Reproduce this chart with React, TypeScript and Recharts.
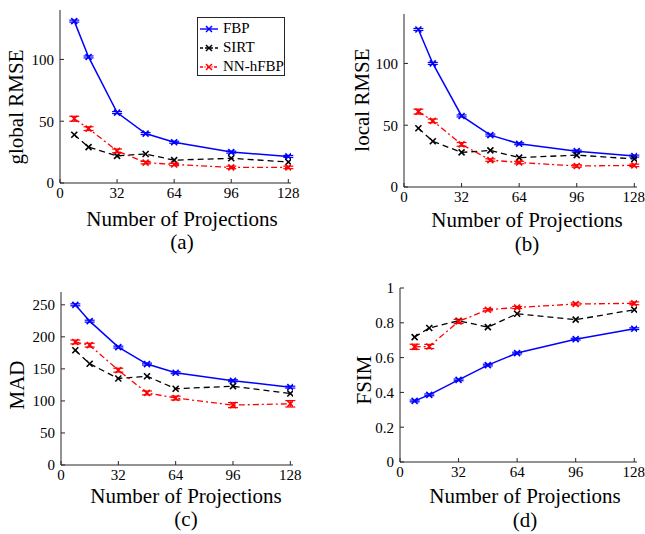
import { LineChart, Line, XAxis, YAxis, ErrorBar, Legend } from "recharts";

const projections = [8, 16, 32, 48, 64, 96, 128];
const xTicks = [0, 32, 64, 96, 128];

const globalFBP = [131, 102, 57, 40, 33, 25, 21.5];
const globalSIRT = [39, 29, 22, 23.5, 18.5, 20, 17];
const globalNN = [52, 44, 26, 16.5, 15, 12.6, 12.6];
const globalNNErr = [2, 1.5, 1.5, 1, 1, 1, 1];

const localFBP = [127.5, 100, 57.5, 42, 35, 29, 25];
const localSIRT = [47.5, 37, 28, 29.6, 23.8, 25.8, 22.7];
const localNN = [61, 53.5, 34.5, 21.8, 19.8, 17, 17.5];
const localNNErr = [2, 1.5, 1.5, 1, 1, 1, 1];

const madFBP = [250, 224.5, 184, 157.5, 144, 131.5, 121.5];
const madSIRT = [179, 158, 135, 138.5, 119, 123, 111.5];
const madNN = [192, 187, 148, 112.5, 104.5, 93.5, 95.5];
const madNNErr = [3, 3, 3, 3, 3, 4, 5];

const fsimFBP = [0.351, 0.386, 0.472, 0.557, 0.626, 0.706, 0.766];
const fsimSIRT = [0.718, 0.77, 0.812, 0.775, 0.852, 0.818, 0.875];
const fsimNN = [0.662, 0.664, 0.808, 0.875, 0.888, 0.908, 0.912];
const fsimNNErr = [0.015, 0.012, 0.012, 0.006, 0.006, 0.006, 0.008];

const FONT = "'Liberation Serif', 'Times New Roman', serif";
const AXIS = "#262626";

const build = (fbp: number[], sirt: number[], nn: number[], nnErr: number[], capErr: number) =>
  projections.map((x, i) => ({ x, fbp: fbp[i], sirt: sirt[i], nn: nn[i], nnErr: nnErr[i], cap: capErr }));

const XMark = (props: any) => {
  const { cx, cy, stroke, index } = props;
  if (cx == null || cy == null) return <g key={index} />;
  const s = 3;
  return (
    <g key={index}>
      <line x1={cx - s} y1={cy - s} x2={cx + s} y2={cy + s} stroke={stroke} strokeWidth={1.6} />
      <line x1={cx - s} y1={cy + s} x2={cx + s} y2={cy - s} stroke={stroke} strokeWidth={1.6} />
    </g>
  );
};

const LegendBox = () => {
  const rows = [
    { name: "FBP", color: "#0000ff", dash: undefined },
    { name: "SIRT", color: "#000000", dash: "3 2" },
    { name: "NN-hFBP", color: "#ff0000", dash: "3 1.5 1 1.5" },
  ];
  return (
    <div
      style={{
        border: `1px solid ${AXIS}`,
        background: "#fff",
        width: 88,
        height: 59,
        boxSizing: "border-box",
        fontFamily: FONT,
        fontSize: 15,
        color: "#000",
        padding: "1px 0 0 0",
      }}
    >
      {rows.map((r) => (
        <div key={r.name} style={{ display: "flex", alignItems: "center", height: 19 }}>
          <svg width={22} height={10} style={{ marginLeft: 1 }}>
            <line x1={1} y1={5} x2={19} y2={5} stroke={r.color} strokeWidth={1.4} strokeDasharray={r.dash} />
            <line x1={7} y1={2} x2={13} y2={8} stroke={r.color} strokeWidth={1.5} />
            <line x1={7} y1={8} x2={13} y2={2} stroke={r.color} strokeWidth={1.5} />
          </svg>
          <span style={{ marginLeft: 2 }}>{r.name}</span>
        </div>
      ))}
    </div>
  );
};

interface PanelProps {
  left: number;
  top: number;
  width: number;
  height: number;
  plot: { l: number; r: number; t: number; b: number };
  data: any[];
  yDomain: [number, number];
  yTicks: number[];
  yFormat?: (v: number) => string;
  yLabel: string;
  yLabelPos: { x: number; y: number };
  title: { x: number; y: number };
  caption: string;
  captionY: number;
  legend?: boolean;
}

const tickStyle = { fontFamily: FONT, fontSize: 15, fill: "#000" };

const textBox = {
  position: "absolute" as const,
  height: 20,
  lineHeight: "20px",
  textAlign: "center" as const,
  fontFamily: FONT,
  fontSize: 21,
  color: "#000",
  whiteSpace: "nowrap" as const,
};

const Panel = (p: PanelProps) => {
  const { plot } = p;
  return (
    <>
      <div style={{ position: "absolute", left: p.left, top: p.top }}>
        <LineChart
          width={p.width}
          height={p.height}
          data={p.data}
          margin={{ top: plot.t, right: p.width - plot.r, left: 0, bottom: 0 }}
        >
          <XAxis
            dataKey="x"
            type="number"
            domain={[0, 129.5]}
            ticks={xTicks}
            allowDataOverflow
            height={p.height - plot.b}
            tickSize={-4}
            tickMargin={8}
            stroke={AXIS}
            tick={tickStyle}
          />
          <XAxis
            xAxisId="top"
            orientation="top"
            type="number"
            domain={[0, 129.5]}
            ticks={xTicks}
            allowDataOverflow
            height={0}
            tickSize={-4}
            tick={false}
            stroke={AXIS}
          />
          <YAxis
            type="number"
            domain={p.yDomain}
            ticks={p.yTicks}
            allowDataOverflow
            width={plot.l}
            tickSize={-4}
            tickMargin={10}
            tickFormatter={p.yFormat}
            stroke={AXIS}
            tick={tickStyle}
          />
          <YAxis
            yAxisId="right"
            orientation="right"
            type="number"
            domain={p.yDomain}
            ticks={p.yTicks}
            allowDataOverflow
            width={0}
            tickSize={-4}
            tick={false}
            stroke={AXIS}
          />
          <Line
            dataKey="fbp"
            stroke="#0000ff"
            strokeWidth={1.5}
            dot={(d: any) => <XMark {...d} stroke="#0000ff" />}
            isAnimationActive={false}
          >
            <ErrorBar dataKey="cap" width={5} stroke="#0000ff" strokeWidth={1.2} direction="y" />
          </Line>
          <Line
            dataKey="sirt"
            stroke="#000000"
            strokeWidth={1.3}
            strokeDasharray="6 4"
            dot={(d: any) => <XMark {...d} stroke="#000000" />}
            isAnimationActive={false}
          />
          <Line
            dataKey="nn"
            stroke="#ff0000"
            strokeWidth={1.3}
            strokeDasharray="6 3 2 3"
            dot={(d: any) => <XMark {...d} stroke="#ff0000" />}
            isAnimationActive={false}
          >
            <ErrorBar dataKey="nnErr" width={5} stroke="#ff0000" strokeWidth={1.2} direction="y" />
          </Line>
          {p.legend && (
            <Legend
              layout="vertical"
              align="center"
              verticalAlign="middle"
              content={() => <LegendBox />}
              wrapperStyle={{ position: "absolute", left: 197, top: 17, width: 88, height: 59 }}
            />
          )}
        </LineChart>
      </div>
      <div
        style={{
          ...textBox,
          left: p.yLabelPos.x - 100,
          top: p.yLabelPos.y - 10,
          width: 200,
          transform: "rotate(-90deg)",
        }}
      >
        {p.yLabel}
      </div>
      <div style={{ ...textBox, left: p.title.x - 150, top: p.title.y - 10, width: 300 }}>
        Number of Projections
      </div>
      <div style={{ ...textBox, left: p.title.x - 50, top: p.captionY - 9, width: 100 }}>
        {p.caption}
      </div>
    </>
  );
};

const fsimFormat = (v: number) => (v === 0 ? "0" : v === 1 ? "1" : v.toFixed(1));

export default function App() {
  return (
    <div
      style={{
        position: "absolute",
        left: 0,
        top: 0,
        width: 645,
        height: 534,
        background: "#fff",
        overflow: "hidden",
      }}
    >
      <Panel
        left={0}
        top={0}
        width={320}
        height={260}
        plot={{ l: 60, r: 291, t: 10, b: 183 }}
        data={build(globalFBP, globalSIRT, globalNN, globalNNErr, 0.8)}
        yDomain={[0, 140]}
        yTicks={[0, 50, 100]}
        yLabel="global RMSE"
        yLabelPos={{ x: 16, y: 107 }}
        title={{ x: 182, y: 219 }}
        caption="(a)"
        captionY={241}
        legend
      />
      <Panel
        left={320}
        top={0}
        width={325}
        height={260}
        plot={{ l: 84, r: 317, t: 14, b: 187 }}
        data={build(localFBP, localSIRT, localNN, localNNErr, 0.8)}
        yDomain={[0, 140]}
        yTicks={[0, 50, 100]}
        yLabel="local RMSE"
        yLabelPos={{ x: 362, y: 100 }}
        title={{ x: 527, y: 220 }}
        caption="(b)"
        captionY={243}
      />
      <Panel
        left={0}
        top={260}
        width={320}
        height={274}
        plot={{ l: 61, r: 293, t: 32, b: 205 }}
        data={build(madFBP, madSIRT, madNN, madNNErr, 1.5)}
        yDomain={[0, 270]}
        yTicks={[0, 50, 100, 150, 200, 250]}
        yLabel="MAD"
        yLabelPos={{ x: 17, y: 385 }}
        title={{ x: 186, y: 496 }}
        caption="(c)"
        captionY={518}
      />
      <Panel
        left={320}
        top={260}
        width={325}
        height={274}
        plot={{ l: 80, r: 317, t: 28, b: 202 }}
        data={build(fsimFBP, fsimSIRT, fsimNN, fsimNNErr, 0.005)}
        yDomain={[0, 1]}
        yTicks={[0, 0.2, 0.4, 0.6, 0.8, 1]}
        yFormat={fsimFormat}
        yLabel="FSIM"
        yLabelPos={{ x: 364, y: 380 }}
        title={{ x: 525, y: 496 }}
        caption="(d)"
        captionY={519}
      />
    </div>
  );
}
